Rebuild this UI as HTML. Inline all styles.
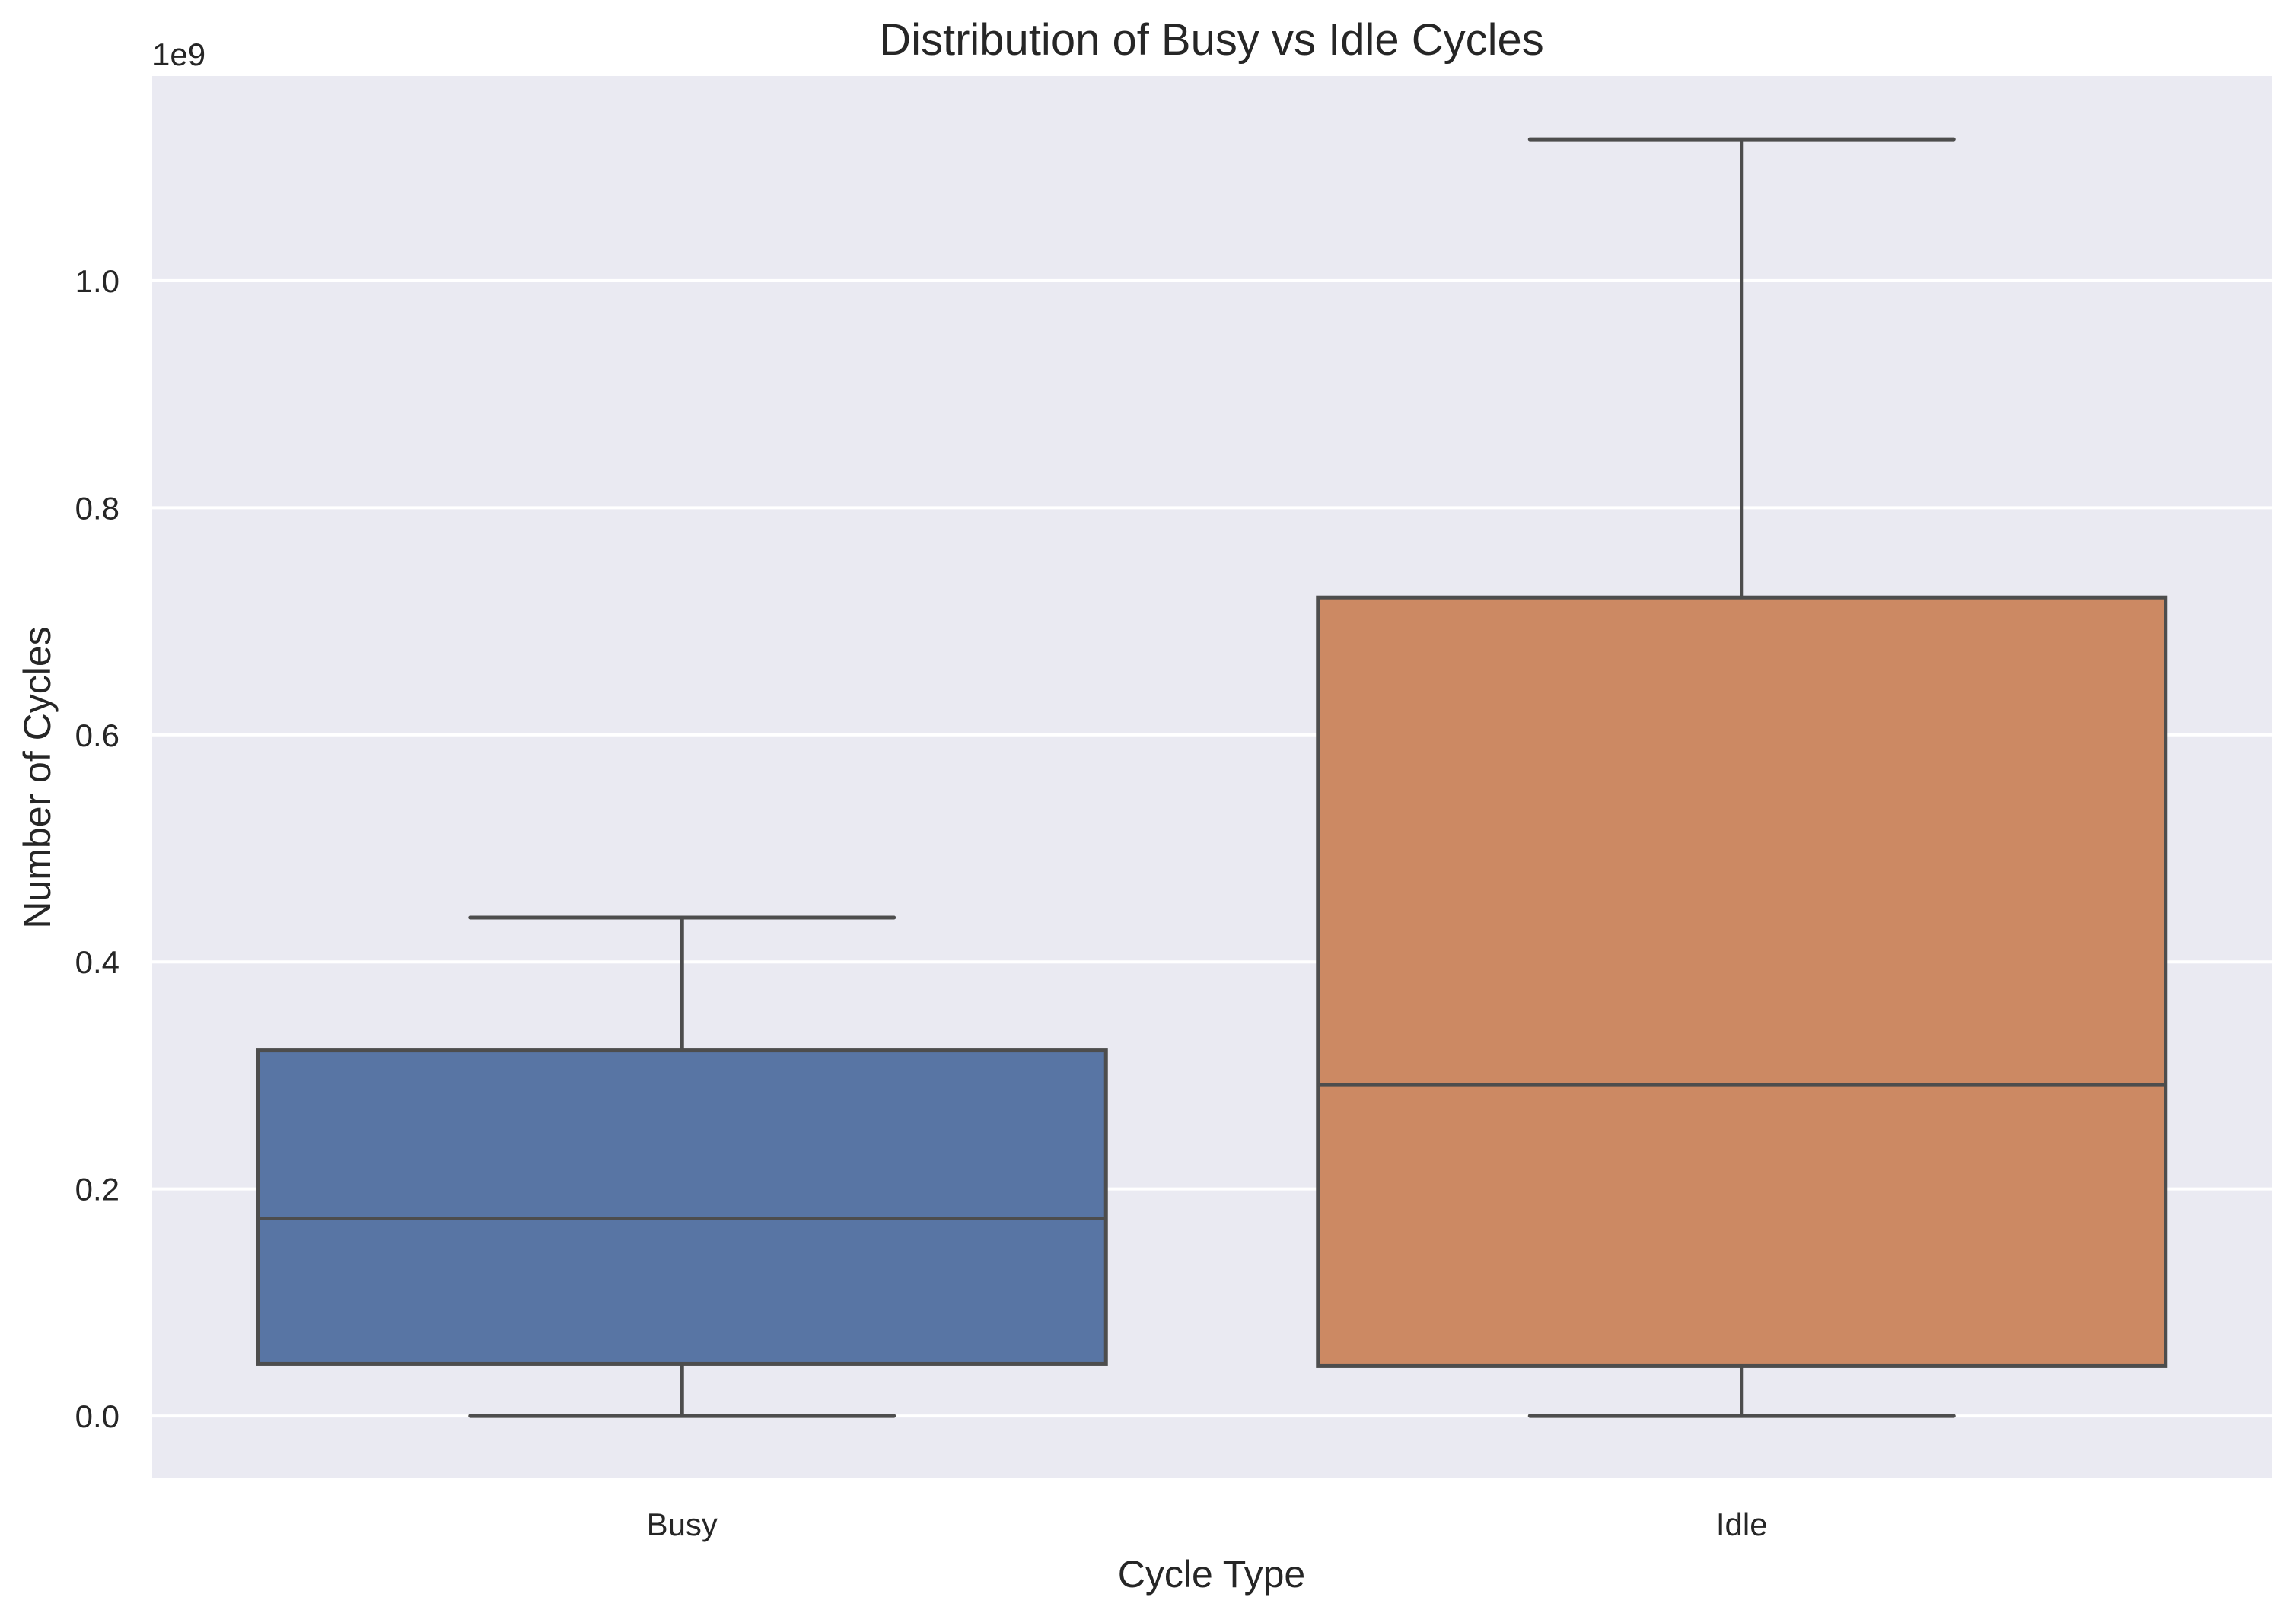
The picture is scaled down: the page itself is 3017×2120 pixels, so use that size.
<!DOCTYPE html>
<html><head><meta charset="utf-8"><style>
html,body{margin:0;padding:0;background:#fff;}
svg{display:block;font-family:"Liberation Sans",Arial,sans-serif;}
</style></head><body>
<svg id="chart" width="3017" height="2120" viewBox="0 0 3017 2120">
<rect x="200" y="100" width="2785" height="1843" fill="#eaeaf2"/>
<g id="grid"></g>
<g id="boxes"></g>
<g id="yticks"></g>
<g id="xticks"></g>
<text x="200" y="86" font-size="42" fill="#262626">1e9</text>
<text x="1592" y="72" font-size="58" fill="#262626" text-anchor="middle">Distribution of Busy vs Idle Cycles</text>
<text x="1592" y="2086" font-size="50" fill="#262626" text-anchor="middle">Cycle Type</text>
<text transform="translate(66,1022) rotate(-90)" font-size="50" fill="#262626" text-anchor="middle">Number of Cycles</text>
</svg>
<script>
const categories = ["Busy", "Idle"];
const whiskerLow = [0, 0];
const q1 = [0.046, 0.044];
const median = [0.174, 0.2915];
const q3 = [0.322, 0.721];
const whiskerHigh = [0.439, 1.1245];
const colors = ["#5875a4", "#cc8963"];
const yTicks = [0, 0.2, 0.4, 0.6, 0.8, 1.0];
const yTickLabels = ["0.0", "0.2", "0.4", "0.6", "0.8", "1.0"];

const NS = "http://www.w3.org/2000/svg";
const plotL = 200, plotR = 2985, plotT = 100, plotB = 1943;
const yMin = -0.0549, yMax = 1.1802;
function yScale(v){ return plotB - (v - yMin) / (yMax - yMin) * (plotB - plotT); }
const band = (plotR - plotL) / categories.length;
function xScale(i){ return plotL + band * (i + 0.5); }
function mk(tag, attrs){ const e = document.createElementNS(NS, tag); for (const k in attrs) e.setAttribute(k, attrs[k]); return e; }

const grid = document.getElementById("grid");
const yt = document.getElementById("yticks");
yTicks.forEach((t, i) => {
  const y = yScale(t);
  const l = mk("line", {x1: plotL, x2: plotR, y1: y, y2: y, stroke: "#fff", "stroke-width": 4});
  
  
  grid.appendChild(l);
  const tx = mk("text", {x: 157, y: y + 15, "font-size": 42, fill: "#262626", "text-anchor": "end"});
  tx.textContent = yTickLabels[i];
  
  
  yt.appendChild(tx);
});

const boxes = document.getElementById("boxes");
const xt = document.getElementById("xticks");
const boxW = band * 0.8, lc = "#4d4d4d", lw = 5;
categories.forEach((c, i) => {
  const cx = xScale(i);
  const g = mk("g", {});
  
  
  const w1 = mk("line", {x1: cx, x2: cx, y1: yScale(whiskerLow[i]), y2: yScale(q1[i]), stroke: lc, "stroke-width": lw});
  
  
  const w2 = mk("line", {x1: cx, x2: cx, y1: yScale(q3[i]), y2: yScale(whiskerHigh[i]), stroke: lc, "stroke-width": lw});
  
  
  const capL = mk("line", {x1: cx - boxW/4, x2: cx + boxW/4, y1: yScale(whiskerLow[i]), y2: yScale(whiskerLow[i]), stroke: lc, "stroke-width": lw, "stroke-linecap": "round"});
  
  
  const capH = mk("line", {x1: cx - boxW/4, x2: cx + boxW/4, y1: yScale(whiskerHigh[i]), y2: yScale(whiskerHigh[i]), stroke: lc, "stroke-width": lw, "stroke-linecap": "round"});
  
  
  const r = mk("rect", {x: cx - boxW/2, y: yScale(q3[i]), width: boxW, height: yScale(q1[i]) - yScale(q3[i]), fill: colors[i], stroke: lc, "stroke-width": lw});
  
  
  const m = mk("line", {x1: cx - boxW/2, x2: cx + boxW/2, y1: yScale(median[i]), y2: yScale(median[i]), stroke: lc, "stroke-width": lw});
  
  
  [w1, w2, capL, capH, r, m].forEach(e => g.appendChild(e));
  boxes.appendChild(g);
  const tx = mk("text", {x: cx, y: 2018, "font-size": 42, fill: "#262626", "text-anchor": "middle"});
  tx.textContent = c;
  
  
  xt.appendChild(tx);
});
</script>
</body></html>
